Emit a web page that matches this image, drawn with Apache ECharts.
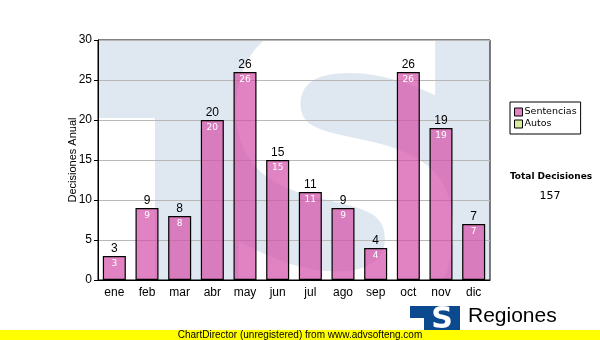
<!DOCTYPE html>
<html><head><meta charset="utf-8">
<script src="https://cdn.jsdelivr.net/npm/echarts@6/dist/echarts.min.js"></script>
<style>html,body{margin:0;padding:0;background:#fff}#c{width:600px;height:340px}</style>
</head><body><div id="c"></div>
<script>
const categories = ['ene','feb','mar','abr','may','jun','jul','ago','sep','oct','nov','dic'];
const sentencias = [3,9,8,20,26,15,11,9,4,26,19,7];
const autos = [];
const yTicks = [0,5,10,15,20,25,30];
const yAxisTitle = 'Decisiones Anual';
const totalLabel = 'Total Decisiones';
const totalValue = '157';

const chart = echarts.init(document.getElementById('c'), null, {renderer:'canvas'});
const PL=98, PT=40, PR=490, PB=280;
chart.setOption({
  animation:false,
  backgroundColor:'#fff',
  textStyle:{fontFamily:'Arial, "Liberation Sans", sans-serif'},
  grid:{left:PL, top:PT, width:PR-PL, height:PB-PT, show:true, borderColor:'#000', borderWidth:1, backgroundColor:'transparent'},
  legend:{
    left:510, top:102, orient:'vertical', data:['Sentencias','Autos'],
    borderColor:'#000', borderWidth:1, padding:[5,4,5,4], itemGap:2,
    itemWidth:8, itemHeight:8, icon:'rect',
    textStyle:{fontFamily:'"DejaVu Sans", Verdana, sans-serif', fontSize:9.5, color:'#000', padding:[0,0,0,-3]},
    itemStyle:{borderColor:'#000', borderWidth:1}
  },
  xAxis:{type:'category', data:categories,
    axisLine:{lineStyle:{color:'#000'}},
    axisTick:{alignWithLabel:true, length:4, lineStyle:{color:'#000'}},
    axisLabel:{color:'#000', fontSize:12, margin:7, fontFamily:'Arial, "Liberation Sans", sans-serif'}},
  yAxis:{type:'value', min:0, max:30, interval:5,
    axisLine:{show:true, lineStyle:{color:'#000'}},
    axisTick:{show:true, length:4, lineStyle:{color:'#000'}},
    axisLabel:{color:'#000', fontSize:12, margin:6, formatter:(v)=>yTicks.includes(v)?String(v):''},
    splitLine:{lineStyle:{color:'#b8b8b8'}}},
  graphic:[
    {type:'rect', z:-3, shape:{x:PL, y:PT, width:PR-PL, height:PB-PT}, style:{fill:'#dfe8f1'}},
    {type:'rect', z:-2, shape:{x:PL, y:118, width:57, height:PB-118}, style:{fill:'#fff'}},
    {type:'text', z:-1, x:345, y:215, scaleX:0.92, style:{text:'S', font:'bold 410px "DejaVu Sans", sans-serif', fill:'#fff', textAlign:'center', textVerticalAlign:'middle'}},
    {type:'text', z:4, x:73, y:160, rotation:Math.PI/2, style:{text:yAxisTitle, font:'11px Arial, "Liberation Sans", sans-serif', fill:'#000', textAlign:'center', textVerticalAlign:'middle'}},
    {type:'rect', z:5, shape:{x:0, y:330, width:600, height:10}, style:{fill:'#ffff00'}},
    {type:'text', z:6, x:300, y:335, style:{text:'ChartDirector (unregistered) from www.advsofteng.com', font:'10px Arial, "Liberation Sans", sans-serif', fill:'#000', textAlign:'center', textVerticalAlign:'middle'}},
    {type:'rect', z:4, shape:{x:410, y:306, width:50, height:25}, style:{fill:'#0b4a8e'}},
    {type:'rect', z:4, shape:{x:410, y:318, width:14, height:13}, style:{fill:'#fff'}},
    {type:'text', z:4, x:442, y:320, style:{text:'S', font:'bold 30px "DejaVu Sans", sans-serif', fill:'#fff', textAlign:'center', textVerticalAlign:'middle'}},
    {type:'text', z:4, x:468, y:316, style:{text:'Regiones', font:'21px Arial, "Liberation Sans", sans-serif', fill:'#000', textAlign:'left', textVerticalAlign:'middle'}},
    {type:'text', z:4, x:551, y:177, style:{text:totalLabel, font:'bold 9px "DejaVu Sans", Verdana, sans-serif', fill:'#000', textAlign:'center', textVerticalAlign:'middle'}},
    {type:'text', z:4, x:550, y:196, style:{text:totalValue, font:'11px "DejaVu Sans", Verdana, sans-serif', fill:'#000', textAlign:'center', textVerticalAlign:'middle'}}
  ],
  series:[
    {name:'Sentencias', type:'bar', data:sentencias, barWidth:23,
      itemStyle:{color:'rgba(212,78,168,0.7)', borderColor:'#000', borderWidth:1.2},
      label:{show:true, position:'insideTop', distance:3, color:'#fff', fontSize:9, fontFamily:'"DejaVu Sans", Verdana, sans-serif'},
      z:2},
    {name:'Sentencias', type:'bar', data:sentencias, barWidth:23, barGap:'-100%',
      itemStyle:{color:'transparent', borderWidth:0},
      label:{show:true, position:'top', distance:1, color:'#000', fontSize:12, fontFamily:'Arial, "Liberation Sans", sans-serif'},
      legendHoverLink:false, z:3},
    {name:'Autos', type:'line', data:autos, itemStyle:{color:'#d8eca0', borderColor:'#000'}, lineStyle:{width:0}, symbol:'none'}
  ]
});
</script></body></html>
